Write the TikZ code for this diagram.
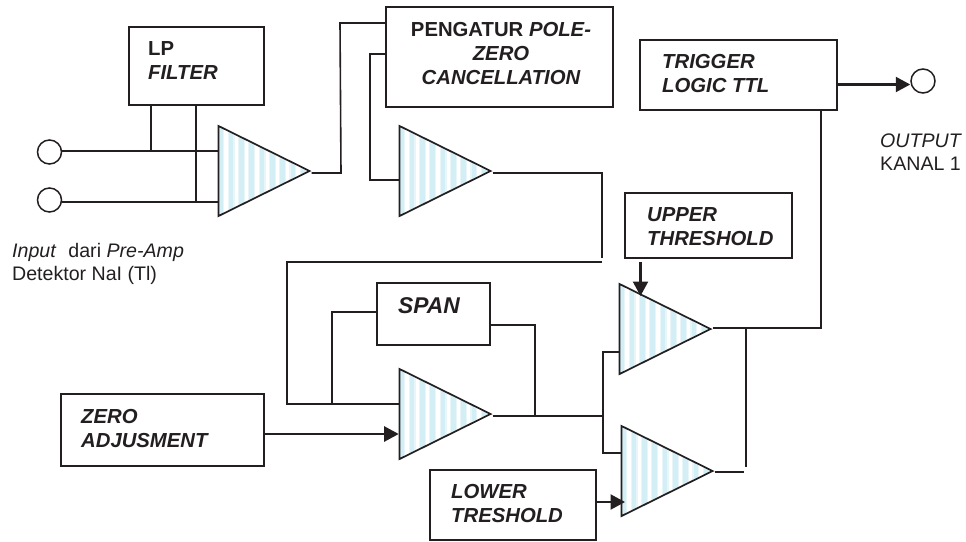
\documentclass[tikz,border=0pt]{standalone}
\usepackage{fontspec}
\setmainfont{Liberation Sans}
\usetikzlibrary{arrows.meta,shapes.geometric,calc}
\definecolor{ink}{HTML}{231F20}
\definecolor{stripeA}{HTML}{D3EEF5}
\definecolor{stripeB}{HTML}{E8F6FA}
\tikzset{
  blockbox/.style={draw=ink,line width=1.7pt,fill=white,rectangle,inner sep=0pt},
  amp/.style={draw=ink,line width=1.7pt,isosceles triangle,isosceles triangle apex angle=52.6,
    isosceles triangle stretches,minimum height=91pt,minimum width=90pt,inner sep=0pt,anchor=apex,
    path picture={
      \foreach \i in {0,...,9}{
        \fill[stripeA] ($(path picture bounding box.north west)+(\i*10.3pt,4pt)$) rectangle ++(4.6pt,-100pt);
        \fill[stripeB] ($(path picture bounding box.north west)+(\i*10.3pt+4.6pt,4pt)$) rectangle ++(1.2pt,-100pt);
        \fill[stripeB] ($(path picture bounding box.north west)+(\i*10.3pt-1.2pt,4pt)$) rectangle ++(1.2pt,-100pt);
      }
    }},
  port/.style={circle,draw=ink,line width=1.5pt,fill=white,minimum size=24pt,inner sep=0pt},
  wire/.style={draw=ink,line width=1.6pt},
  arrowwire/.style={draw=ink,line width=2.3pt,-{Triangle[length=14.5pt,width=15pt]}},
  boxtext/.style={text=ink,font=\fontsize{20.3}{24}\selectfont\bfseries\itshape,align=left,anchor=north west,inner sep=0pt},
  plaintext/.style={text=ink,font=\fontsize{19.6}{23}\selectfont,align=left,anchor=north west,inner sep=0pt},
}
\begin{document}
\begin{tikzpicture}[x=1pt,y=-1pt]
\useasboundingbox (0,0) rectangle (966,541);
% blocks
\node[blockbox,minimum width=135pt,minimum height=78pt] (lp) at (196.5,66) {};
\node[blockbox,minimum width=227pt,minimum height=100pt] (pz) at (499.5,57) {};
\node[blockbox,minimum width=197pt,minimum height=70pt] (trig) at (738.5,75) {};
\node[blockbox,minimum width=167pt,minimum height=65pt] (up) at (708.5,225.5) {};
\node[blockbox,minimum width=113pt,minimum height=62pt] (span) at (433.5,314) {};
\node[blockbox,minimum width=203pt,minimum height=72pt] (zero) at (162.5,430) {};
\node[blockbox,minimum width=166pt,minimum height=70pt] (low) at (513,505) {};
% amplifiers
\node[amp] (a1) at (311.5,171) {};
\node[amp] (a2) at (492.5,171) {};
\node[amp] (a3) at (492.5,414) {};
\node[amp] (a4) at (712.5,329) {};
\node[amp] (a5) at (714.5,471) {};
% ports
\node[port] (in1) at (49.5,152) {};
\node[port] (in2) at (49.5,200) {};
\node[port] (out) at (923,81) {};
% bend points
\coordinate (j1) at (151,151);
\coordinate (j2) at (196,202);
\coordinate (j3) at (332,404);
\coordinate (j4) at (535,416);
\coordinate (j5) at (603,416);
\coordinate (j6) at (746,328);
\coordinate (j7) at (821,328);
\coordinate (e2) at (602,258);
\coordinate (e3) at (602,262);
% connectors
\draw[wire] (in1.east |- j1) -- (a1.west |- j1);
\draw[wire] (in2.east |- j2) -- (a1.west |- j2);
\draw[wire] (lp.south -| j1) -- (j1);
\draw[wire] (lp.south -| j2) -- (j2);
\draw[wire] (a1.apex |- 0,173) -- (341,173) -- (340,23) -- (pz.west |- 0,23);
\draw[wire] (pz.west |- 0,54) -- (370,54) -- (370,180) -- (a2.west |- 0,180);
\draw[wire] (a2.apex |- 0,173) -- (e2 |- 0,173) -- (e2);
\draw[wire] (e3) -- (287,262) -- (287,404) -- (a3.west |- j3);
\draw[wire] (j3) -- (332,312) -- (span.west |- 0,312);
\draw[wire] (span.east |- 0,325) -- (j4 |- 0,325) -- (j4);
\draw[wire] (a3.apex |- j4) -- (j5);
\draw[wire] (a4.west |- 0,352) -- (603,352) -- (603,453) -- (a5.west |- 0,453);
\draw[wire] (a4.apex |- j6) -- (j7) -- (trig.south -| j7);
\draw[wire] (j6) -- (746,467);
\draw[wire] (a5.apex |- 0,472) -- (744,472);
\draw[arrowwire] (trig.east |- 0,84.5) -- (out.west |- 0,84.5);
\draw[arrowwire] (640.5,262) -- (640.5,296);
\draw[arrowwire] (zero.east |- 0,434) -- (a3.west |- 0,434);
\draw[arrowwire] (low.east |- 0,502) -- (625,502);
% texts
\node[boxtext] (tlp) at (148,41) {\textup{LP}\\FILTER};
\node[boxtext,align=center,anchor=north] (tpz) at (501,22) {\textup{PENGATUR} POLE-\\ZERO\\CANCELLATION};
\node[boxtext] (ttrig) at (662,54) {TRIGGER\\LOGIC TTL};
\node[boxtext] (tup) at (647,207) {UPPER\\THRESHOLD};
\node[boxtext,font=\fontsize{22.8}{24}\selectfont\bfseries\itshape] (tspan) at (398,297.5) {SPAN};
\node[boxtext] (tzero) at (81,409) {ZERO\\ADJUSMENT};
\node[boxtext] (tlow) at (451,484) {LOWER\\TRESHOLD};
\node[plaintext] (tin) at (12,243) {\textit{Input}\,\, dari \textit{Pre-Amp}\\Detektor NaI (Tl)};
\node[plaintext] (tout) at (880,134) {\textit{OUTPUT}\\KANAL 1};
\end{tikzpicture}
\end{document}
